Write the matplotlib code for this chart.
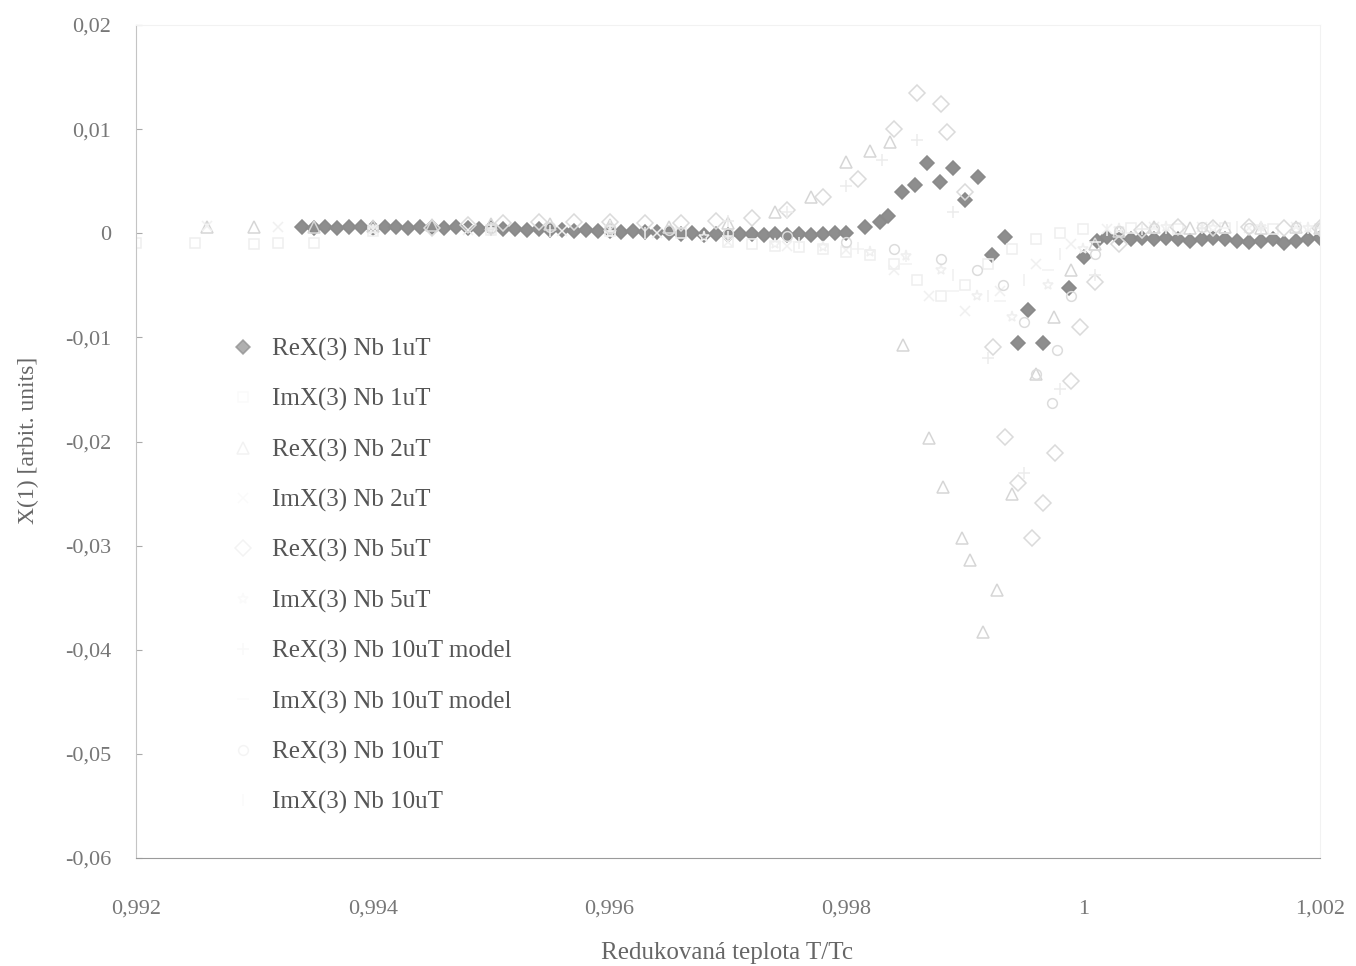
import matplotlib
matplotlib.use("Agg")
import matplotlib.pyplot as plt
from matplotlib.ticker import FuncFormatter

plt.rcParams['font.family'] = ['Liberation Serif', 'DejaVu Serif']

# --------- data: reduced temperature T/Tc and X(3) values -----------
# ReX(3) Nb 1uT
T_re1 = [0.9934, 0.9935, 0.9936, 0.9937, 0.9938, 0.9939, 0.9940, 0.9941, 0.9942, 0.9943, 0.9944,
         0.9945, 0.9946, 0.9947, 0.9948, 0.9949, 0.9950, 0.9951, 0.9952, 0.9953, 0.9954,
         0.9955, 0.9956, 0.9957, 0.9958, 0.9959, 0.9960, 0.9961, 0.9962, 0.9963, 0.9964,
         0.9965, 0.9966, 0.9967, 0.9968, 0.9969, 0.9970, 0.9971, 0.9972, 0.9973, 0.9974,
         0.9975, 0.9976, 0.9977, 0.9978, 0.9979, 0.9980,
         0.99816, 0.99828, 0.99835, 0.99847, 0.99858, 0.99868, 0.99879, 0.99890, 0.99900,
         0.99911, 0.99923, 0.99934, 0.99945, 0.99953, 0.99966, 0.99988, 1.00001, 1.00012,
         1.0002, 1.0003, 1.0004, 1.0005, 1.0006, 1.0007, 1.0008, 1.0009, 1.0010, 1.0011,
         1.0012, 1.0013, 1.0014, 1.0015, 1.0016, 1.0017, 1.0018, 1.0019, 1.0020]
X_re1 = [0.0006, 0.0005, 0.0006, 0.0005, 0.0006, 0.0006, 0.0005, 0.0006, 0.0006, 0.0005, 0.0006,
         0.0006, 0.0005, 0.0006, 0.0005, 0.0004, 0.0005, 0.0004, 0.0004, 0.0003, 0.0004,
         0.0003, 0.0003, 0.0002, 0.0003, 0.0002, 0.0002, 0.0001, 0.0002, 0.0001, 0.0001,
         0.0000, -0.0001, 0.0000, -0.0002, -0.0001, -0.0002, -0.0001, -0.0001, -0.0002, -0.0001,
         -0.0002, -0.0001, -0.0002, -0.0001, 0.0000, 0.0000,
         0.0006, 0.0011, 0.0017, 0.0040, 0.0046, 0.0067, 0.0049, 0.0063, 0.0032,
         0.0054, -0.0021, -0.0004, -0.0105, -0.0074, -0.0105, -0.0053, -0.0023, -0.0007,
         -0.0004, -0.0005, -0.0006, -0.0005, -0.0006, -0.0005, -0.0006, -0.0007, -0.0006, -0.0005,
         -0.0006, -0.0007, -0.0008, -0.0007, -0.0006, -0.0009, -0.0007, -0.0006, -0.0005]

# ImX(3) Nb 1uT
T_im1 = [0.9920, 0.9925, 0.9930, 0.9932, 0.9935, 0.9940, 0.9950, 0.9960, 0.9966, 0.9970, 0.9972,
         0.9974, 0.9976, 0.9978, 0.9980, 0.9982, 0.9984, 0.9986, 0.9988, 0.9990, 0.9992, 0.9994,
         0.9996, 0.9998, 1.0000, 1.0004, 1.0008, 1.0012, 1.0016, 1.0020]
X_im1 = [-0.0009, -0.0009, -0.0010, -0.0009, -0.0009, 0.0002, 0.0003, 0.0002, 0.0000, -0.0008, -0.0010,
         -0.0012, -0.0013, -0.0015, -0.0018, -0.0021, -0.0030, -0.0045, -0.0060, -0.0050, -0.0030, -0.0015,
         -0.0006, 0.0000, 0.0004, 0.0005, 0.0004, 0.0005, 0.0004, 0.0004]

# ReX(3) Nb 2uT
T_re2 = [0.9926, 0.9930, 0.9935, 0.9940, 0.9945, 0.9950, 0.9955, 0.9960, 0.9965, 0.9970, 0.9974,
         0.9977, 0.9980, 0.9982, 0.99837, 0.99848, 0.99870, 0.99882, 0.99898, 0.99904, 0.99915,
         0.99927, 0.99940, 0.99960, 0.99975, 0.99990, 1.0001, 1.0003, 1.0006, 1.0009, 1.0012,
         1.0015, 1.0018, 1.0020]
X_re2 = [0.0006, 0.0006, 0.0006, 0.0007, 0.0008, 0.0009, 0.0009, 0.0008, 0.0006, 0.0010, 0.0020,
         0.0035, 0.0068, 0.0079, 0.0088, -0.0107, -0.0197, -0.0244, -0.0293, -0.0314, -0.0383,
         -0.0343, -0.0250, -0.0135, -0.0080, -0.0035, -0.0010, 0.0002, 0.0006, 0.0005, 0.0006,
         0.0005, 0.0006, 0.0005]

# ImX(3) Nb 2uT
T_im2 = [0.9926, 0.9932, 0.9940, 0.9948, 0.9956, 0.9964, 0.9970, 0.9975, 0.9980, 0.9984, 0.9987,
         0.9990, 0.9993, 0.9996, 0.9999, 1.0002, 1.0006, 1.0010, 1.0014, 1.0018]
X_im2 = [0.0007, 0.0006, 0.0004, 0.0003, 0.0002, 0.0000, -0.0008, -0.0012, -0.0016, -0.0035, -0.0060,
         -0.0075, -0.0055, -0.0030, -0.0010, 0.0004, 0.0006, 0.0006, 0.0005, 0.0006]

# ReX(3) Nb 5uT
T_re5 = [0.9945, 0.9948, 0.9951, 0.9954, 0.9957, 0.9960, 0.9963, 0.9966, 0.9969, 0.9972, 0.9975,
         0.9978, 0.9981, 0.9984, 0.9986, 0.9988, 0.99885, 0.9990, 0.99924, 0.99934, 0.99945,
         0.99957, 0.99966, 0.99976, 0.9999, 0.99997, 1.0001, 1.0003, 1.0005, 1.0008, 1.0011,
         1.0014, 1.0017, 1.0020]
X_re5 = [0.0005, 0.0008, 0.0010, 0.0011, 0.0011, 0.0011, 0.0010, 0.0010, 0.0012, 0.0015, 0.0022,
         0.0035, 0.0052, 0.0100, 0.0135, 0.0124, 0.0097, 0.0040, -0.0109, -0.0196, -0.0240,
         -0.0293, -0.0259, -0.0211, -0.0142, -0.0090, -0.0047, -0.0010, 0.0003, 0.0006, 0.0005,
         0.0006, 0.0005, 0.0005]

# ImX(3) Nb 5uT
T_im5 = [0.9940, 0.9950, 0.9960, 0.9968, 0.9974, 0.9978, 0.9982, 0.9985, 0.9988, 0.9991, 0.9994,
         0.9997, 1.0000, 1.0003, 1.0007, 1.0011, 1.0015, 1.0019]
X_im5 = [0.0003, 0.0002, 0.0000, -0.0004, -0.0010, -0.0013, -0.0018, -0.0022, -0.0035, -0.0060, -0.0080,
         -0.0050, -0.0015, 0.0004, 0.0006, 0.0005, 0.0006, 0.0005]

# ReX(3) / ImX(3) Nb 10uT model
T_re10m = [0.9950, 0.9960, 0.9970, 0.9975, 0.9980, 0.9983, 0.9986, 0.9989, 0.9992, 0.9995, 0.9998,
           1.0001, 1.0005, 1.0010, 1.0015, 1.0020]
X_re10m = [0.0005, 0.0007, 0.0012, 0.0020, 0.0045, 0.0070, 0.0090, 0.0020, -0.0120, -0.0230, -0.0150,
           -0.0040, 0.0004, 0.0005, 0.0005, 0.0005]
T_im10m = [0.9950, 0.9960, 0.9970, 0.9976, 0.9981, 0.9985, 0.9989, 0.9993, 0.9997, 1.0001, 1.0006,
           1.0012, 1.0018]
X_im10m = [0.0002, 0.0001, -0.0003, -0.0008, -0.0015, -0.0030, -0.0055, -0.0065, -0.0035, -0.0008,
           0.0004, 0.0005, 0.0005]

# ReX(3) / ImX(3) Nb 10uT
T_re10 = [0.9950, 0.9955, 0.9960, 0.9965, 0.9970, 0.9975, 0.9980, 0.9984, 0.9988, 0.9991, 0.99932,
          0.99950, 0.99960, 0.99974, 0.99978, 0.9999, 1.0001, 1.0003, 1.0006, 1.0010, 1.0014,
          1.0018, 1.0020]
X_re10 = [0.0005, 0.0006, 0.0005, 0.0003, 0.0000, -0.0003, -0.0008, -0.0015, -0.0025, -0.0035, -0.0050,
          -0.0085, -0.0135, -0.0163, -0.0112, -0.0060, -0.0020, 0.0002, 0.0005, 0.0006, 0.0005,
          0.0006, 0.0005]
T_im10 = [0.9955, 0.9963, 0.9970, 0.9976, 0.9981, 0.9985, 0.9989, 0.9992, 0.9995, 0.9998, 1.0002,
          1.0007, 1.0013, 1.0019]
X_im10 = [0.0002, 0.0000, -0.0004, -0.0009, -0.0014, -0.0022, -0.0040, -0.0060, -0.0045, -0.0020,
          0.0003, 0.0005, 0.0006, 0.0005]

labels = ['ReX(3) Nb 1uT', 'ImX(3) Nb 1uT', 'ReX(3) Nb 2uT', 'ImX(3) Nb 2uT',
          'ReX(3) Nb 5uT', 'ImX(3) Nb 5uT', 'ReX(3) Nb 10uT model', 'ImX(3) Nb 10uT model',
          'ReX(3) Nb 10uT', 'ImX(3) Nb 10uT']

series = [(T_re1, X_re1), (T_im1, X_im1), (T_re2, X_re2), (T_im2, X_im2),
          (T_re5, X_re5), (T_im5, X_im5), (T_re10m, X_re10m), (T_im10m, X_im10m),
          (T_re10, X_re10), (T_im10, X_im10)]

markers = ['D', 's', '^', 'x', 'D', '*', '+', '_', 'o', '|']
edges = ['#8a8a8a', '#efefef', '#d6d6d6', '#f0f0f0', '#dadada',
         '#efefef', '#ececec', '#f3f3f3', '#dcdcdc', '#f0f0f0']
fills = ['#8e8e8e', 'none', 'none', 'none', 'none', 'none', 'none', 'none', 'none', 'none']
sizes = [7, 7, 8, 7, 8, 8, 8, 8, 7, 8]

fig = plt.figure(figsize=(13.56, 9.66), dpi=100)
ax = fig.add_axes([136 / 1356, 1 - 858 / 966, (1320 - 136) / 1356, (858 - 25) / 966])

for (t, x), lab, m, ec, fc, ms in zip(series, labels, markers, edges, fills, sizes):
    ax.plot(t, x, linestyle='none', marker=m, markersize=ms, markeredgewidth=1.1,
            markeredgecolor=ec, markerfacecolor=fc, label=lab)

ax.set_xlim(0.992, 1.002)
ax.set_ylim(-0.06, 0.02)
ax.set_xticks([0.992, 0.994, 0.996, 0.998, 1.0, 1.002])
ax.set_yticks([-0.06, -0.05, -0.04, -0.03, -0.02, -0.01, 0, 0.01, 0.02])


def comma(v, pos):
    s = ('%.3f' % v).rstrip('0').rstrip('.')
    if s in ('-0', ''):
        s = '0'
    return s.replace('.', ',')


ax.xaxis.set_major_formatter(FuncFormatter(comma))
ax.yaxis.set_major_formatter(FuncFormatter(comma))
ax.tick_params(axis='x', colors='#777777', labelsize=16, length=0, pad=30)
ax.tick_params(axis='y', colors='#aaaaaa', labelcolor='#777777', labelsize=16,
               length=4, direction='in', pad=18)

ax.spines['bottom'].set_color('#9a9a9a')
ax.spines['left'].set_color('#c4c4c4')
ax.spines['top'].set_color('#f2f2f2')
ax.spines['right'].set_color('#f2f2f2')

fig.text(727 / 1356, 1 - 953 / 966, 'Redukovaná teplota T/Tc', ha='center', va='center',
         fontsize=18, color='#666666')
fig.text(28 / 1356, 1 - 440 / 966, 'X(1) [arbit. units]', ha='center', va='center',
         rotation=90, fontsize=17, color='#666666')

leg = ax.legend(loc='upper left', bbox_to_anchor=(230 / 1356, 1 - 338 / 966),
                bbox_transform=fig.transFigure, frameon=False, fontsize=18,
                handlelength=1.0, handletextpad=0.7, labelspacing=1.09,
                borderpad=0, borderaxespad=0)
for txt in leg.get_texts():
    txt.set_color('#555555')
leg.legend_handles[0].set_alpha(0.7)
for h in leg.legend_handles[1:]:
    h.set_alpha(0.3)

fig.savefig('out.png', dpi=100)
